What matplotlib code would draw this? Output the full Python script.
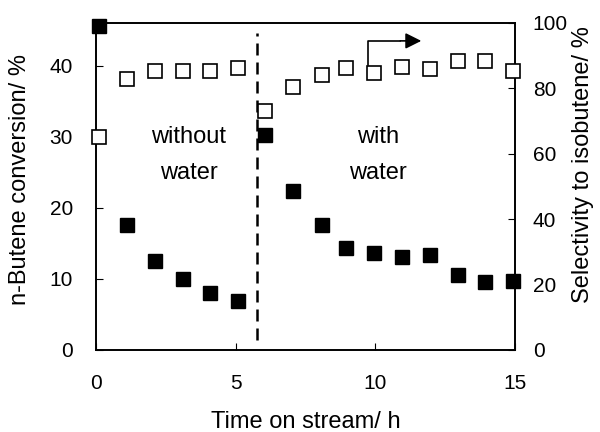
import matplotlib
matplotlib.use("Agg")
import matplotlib.pyplot as plt

plt.rcParams["font.family"] = ["Liberation Sans", "DejaVu Sans"]

# time on stream, h
time_h = [0.1, 1.1, 2.1, 3.1, 4.1, 5.1, 6.07, 7.05, 8.08, 8.95,
          9.95, 10.95, 11.95, 12.95, 13.95, 14.95]
# n-butene conversion, %
conversion = [45.6, 17.6, 12.5, 10.0, 8.0, 6.9, 30.3, 22.4, 17.6, 14.4,
              13.7, 13.1, 13.3, 10.5, 9.5, 9.7]
# selectivity to isobutene, %
selectivity = [65.0, 82.9, 85.4, 85.4, 85.4, 86.1, 73.2, 80.3, 84.1, 86.1,
               84.8, 86.4, 85.9, 88.4, 88.4, 85.4]

water_switch = 5.75

fig = plt.figure(figsize=(6, 4.32), dpi=100)
ax = fig.add_axes([0.16, 0.19, 0.698, 0.757])
ax2 = ax.twinx()

ax.plot(time_h, conversion, ls="none", marker="s", ms=10,
        mfc="black", mec="black", clip_on=False, zorder=5)
ax2.plot(time_h, selectivity, ls="none", marker="s", ms=9.5,
         mfc="white", mec="black", mew=1.2, clip_on=False, zorder=5)

ax.axvline(water_switch, ymin=0.03, ymax=0.97, color="black",
           ls=(0, (4.8, 2.8)), lw=1.8)

ax.set_xlim(0, 15)
ax.set_ylim(0, 46)
ax2.set_ylim(0, 100)
ax.set_xticks([0, 5, 10, 15])
ax.set_yticks([0, 10, 20, 30, 40])
ax2.set_yticks([0, 20, 40, 60, 80, 100])

for a in (ax, ax2):
    for s in a.spines.values():
        s.set_linewidth(1.2)
    a.tick_params(direction="in", length=5, width=0.8, labelsize=15)
ax.tick_params(axis="x", pad=17)
ax.tick_params(axis="y", pad=16.5)
ax2.tick_params(axis="y", pad=13)

ax.set_xlabel("Time on stream/ h", fontsize=17, va="center")
ax.xaxis.set_label_coords(0.5, -0.22)
ax.set_ylabel("n-Butene conversion/ %", fontsize=17, va="center")
ax.yaxis.set_label_coords(-0.181, 0.52)
ax2.set_ylabel("Selectivity to isobutene/ %", fontsize=17, va="center")
ax2.yaxis.set_label_coords(1.162, 0.566)

ax.text(3.33, 30, "without", ha="center", va="center", fontsize=17)
ax.text(3.33, 24.9, "water", ha="center", va="center", fontsize=17)
ax.text(10.1, 30, "with", ha="center", va="center", fontsize=17)
ax.text(10.1, 24.9, "water", ha="center", va="center", fontsize=17)

# arrow pointing to the right axis
ax2.plot([9.73, 9.73, 10.9], [87.2, 94.5, 94.5], color="black", lw=1.2)
ax2.annotate("", xy=(11.75, 94.5), xytext=(10.8, 94.5),
             arrowprops=dict(arrowstyle="-|>", color="black", lw=1.2,
                             mutation_scale=24))

fig.savefig("out.png", dpi=100)
